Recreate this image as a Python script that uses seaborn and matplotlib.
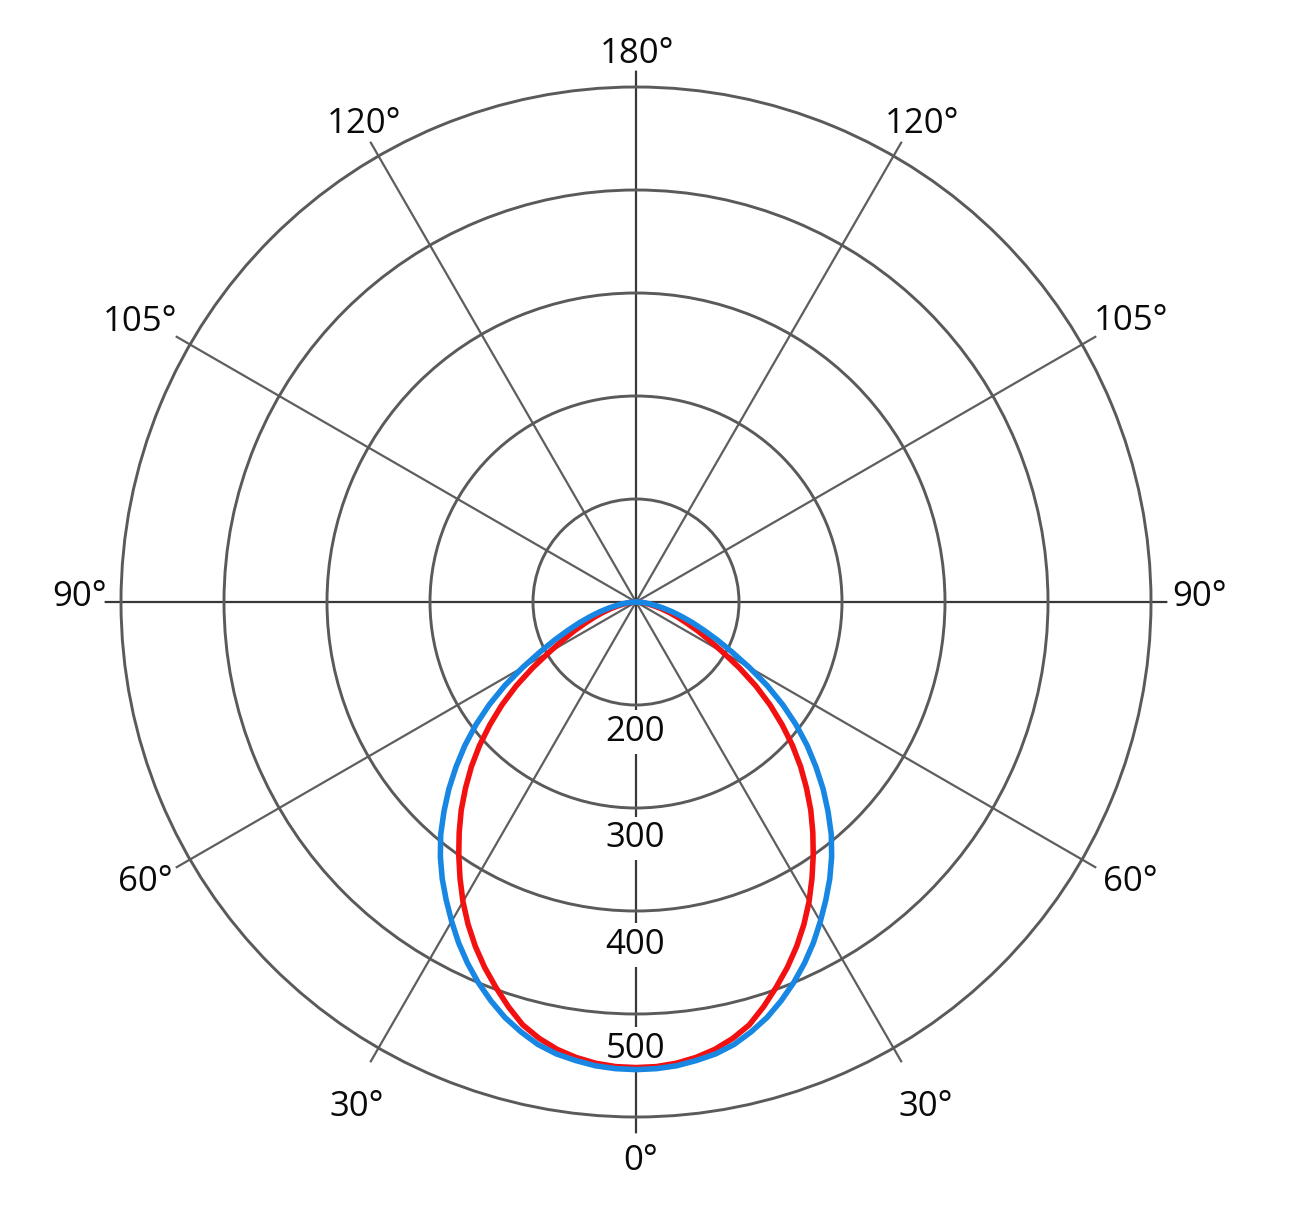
import numpy as np
import pandas as pd
import matplotlib
matplotlib.use("Agg")
import matplotlib.pyplot as plt
import seaborn as sns

# ---- data (every 2.5 degrees) ----
angles_deg = [-90, -87.5, -85, -82.5, -80, -77.5, -75, -72.5, -70, -67.5, -65, -62.5, -60, -57.5,
              -55, -52.5, -50, -47.5, -45, -42.5, -40, -37.5, -35, -32.5, -30, -27.5, -25, -22.5,
              -20, -17.5, -15, -12.5, -10, -7.5, -5, -2.5, 0, 2.5, 5, 7.5, 10, 12.5, 15, 17.5,
              20, 22.5, 25, 27.5, 30, 32.5, 35, 37.5, 40, 42.5, 45, 47.5, 50, 52.5, 55, 57.5,
              60, 62.5, 65, 67.5, 70, 72.5, 75, 77.5, 80, 82.5, 85, 87.5, 90]
blue_values = [0, 4, 8, 13, 19, 27, 36, 46, 58, 71, 87, 105, 127, 151,
               174, 196, 217, 237, 257, 276, 295, 312, 328, 343, 358, 373, 387, 400,
               412, 423, 432, 440, 445.5, 449, 452, 453.5, 454, 453.5, 452, 449, 445.5, 440, 432, 423,
               412, 400, 387, 373, 358, 343, 328, 312, 295, 276, 257, 237, 217, 196, 174, 151,
               127, 105, 87, 71, 58, 46, 36, 27, 19, 13, 8, 4, 0]
red_values = [0, 2, 5, 8.5, 13, 19, 26, 34, 43, 53, 66, 80, 97, 119,
              142, 164, 185, 206, 226, 245, 264, 282, 300, 318, 336, 353, 369, 384,
              398, 412, 425, 434, 441, 446, 449.5, 451.5, 452, 451.5, 449.5, 446, 441, 434, 425, 412,
              398, 384, 369, 353, 336, 318, 300, 282, 264, 245, 226, 206, 185, 164, 142, 119,
              97, 80, 66, 53, 43, 34, 26, 19, 13, 8.5, 5, 2, 0]

ring_values = [100, 200, 300, 400, 500]
ring_labels = ["200", "300", "400", "500"]
spoke_angles = [0, 30, 60, 90, 120, 150, 180, 210, 240, 270, 300, 330]

sns.set_style("white")
plt.rcParams["font.family"] = ["Open Sans", "DejaVu Sans"]

W, H = 1290, 1219
fig = plt.figure(figsize=(W / 100, H / 100), dpi=100)
rmax = 516
cx, cy = 636, 602
Rpx = 515 * rmax / 500
ax = fig.add_axes([(cx - Rpx) / W, (H - cy - Rpx) / H, 2 * Rpx / W, 2 * Rpx / H], projection="polar")
ax.set_theta_zero_location("S")
ax.set_theta_direction(-1)
ax.spines["polar"].set_visible(False)
ax.set_facecolor("white")
ax.set_axisbelow(True)

ax.set_thetagrids(spoke_angles, labels=[""] * len(spoke_angles))
ax.set_rgrids(ring_values, labels=[""] * len(ring_values))
ax.grid(True)
for ang, gl in zip(spoke_angles, ax.xaxis.get_gridlines()):
    if ang % 90 == 0:
        gl.set_color("#383838")
        gl.set_linewidth(1.6)
    else:
        gl.set_color("#5e5e5e")
        gl.set_linewidth(1.6)
for gl in ax.yaxis.get_gridlines():
    gl.set_color("#5a5a5a")
    gl.set_linewidth(2.1)
ax.tick_params(axis="both", length=0)

df = pd.DataFrame({
    "theta": np.deg2rad(angles_deg + angles_deg),
    "value": red_values + blue_values,
    "series": ["red"] * len(red_values) + ["blue"] * len(blue_values),
})
sns.lineplot(data=df, x="theta", y="value", hue="series",
             palette={"red": "#f21010", "blue": "#1787e3"}, hue_order=["red", "blue"],
             linewidth=4.0, ax=ax, legend=False, sort=True, zorder=3)
ax.set_xlabel("")
ax.set_ylabel("")
ax.set_ylim(0, rmax)

FS = 25
half_digit = 0.357 * FS * 100 / 72  # px from digit centre to baseline

# angle labels: digit centres (px) as in the reference
angle_label_pos = [(637, 51), (364, 121), (140, 319), (80, 594), (145, 879), (357, 1104),
                   (641, 1158), (926, 1104), (1130, 879), (1200, 594), (1131, 318), (922, 121)]
angle_label_txt = ["180°", "120°", "105°", "90°", "60°", "30°", "0°", "30°", "60°", "90°", "105°", "120°"]
for (x, y), txt in zip(angle_label_pos, angle_label_txt):
    fig.text(x / W, 1 - (y + half_digit) / H, txt, ha="center", va="baseline",
             fontsize=FS, color="#0a0a0a")

# radial value labels
radial_label_y = [728.5, 835, 941.5, 1045.5]
for y, txt in zip(radial_label_y, ring_labels):
    ax.text(635.5 / W, 1 - (y + half_digit) / H, txt, transform=fig.transFigure,
            ha="center", va="baseline", fontsize=FS, color="#0a0a0a", zorder=2.5,
            bbox=dict(facecolor="white", edgecolor="none", pad=3.5))

fig.savefig("out.png", dpi=100, facecolor="white")
